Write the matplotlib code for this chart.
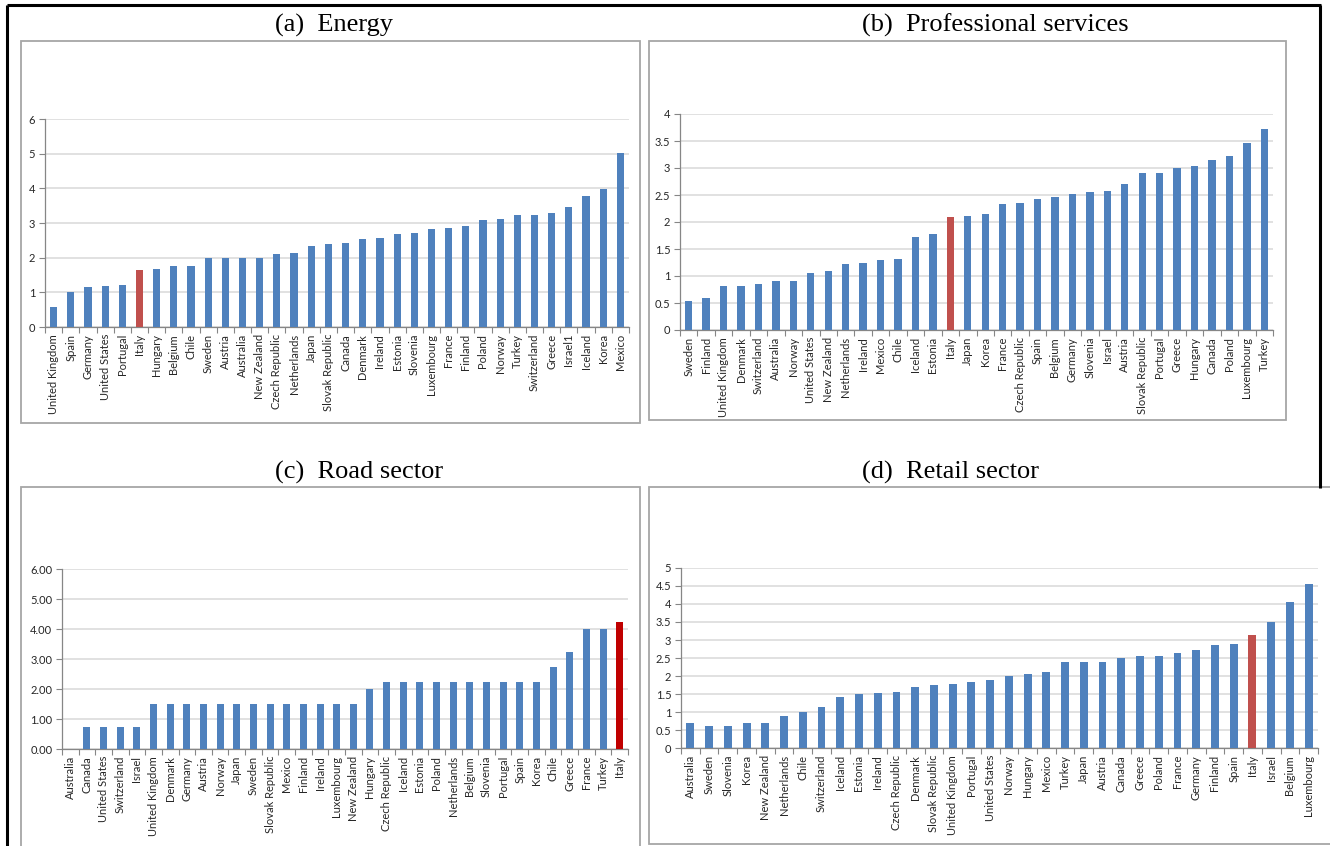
import matplotlib
matplotlib.use("Agg")
import matplotlib.pyplot as plt
from matplotlib.patches import Rectangle
from matplotlib.lines import Line2D
import numpy as np

# ---------------- data ----------------
energy_countries = ["United Kingdom", "Spain", "Germany", "United States", "Portugal", "Italy",
                    "Hungary", "Belgium", "Chile", "Sweden", "Austria", "Australia", "New Zealand",
                    "Czech Republic", "Netherlands", "Japan", "Slovak Republic", "Canada", "Denmark",
                    "Ireland", "Estonia", "Slovenia", "Luxembourg", "France", "Finland", "Poland",
                    "Norway", "Turkey", "Switzerland", "Greece", "Israel1", "Iceland", "Korea", "Mexico"]
energy_values = [0.58, 1.0, 1.16, 1.19, 1.22, 1.65, 1.66, 1.75, 1.76, 2.0, 2.0, 2.0, 2.0,
                 2.12, 2.14, 2.35, 2.39, 2.43, 2.55, 2.57, 2.68, 2.70, 2.82, 2.85, 2.90, 3.09,
                 3.12, 3.22, 3.24, 3.29, 3.45, 3.78, 3.99, 5.01]

prof_countries = ["Sweden", "Finland", "United Kingdom", "Denmark", "Switzerland", "Australia",
                  "Norway", "United States", "New Zealand", "Netherlands", "Ireland", "Mexico",
                  "Chile", "Iceland", "Estonia", "Italy", "Japan", "Korea", "France",
                  "Czech Republic", "Spain", "Belgium", "Germany", "Slovenia", "Israel", "Austria",
                  "Slovak Republic", "Portugal", "Greece", "Hungary", "Canada", "Poland",
                  "Luxembourg", "Turkey"]
prof_values = [0.54, 0.60, 0.81, 0.81, 0.86, 0.91, 0.91, 1.05, 1.09, 1.22, 1.24, 1.29,
               1.31, 1.72, 1.78, 2.09, 2.11, 2.15, 2.33, 2.36, 2.43, 2.47, 2.52, 2.55, 2.57,
               2.70, 2.90, 2.91, 3.0, 3.04, 3.14, 3.23, 3.46, 3.72]

road_countries = ["Australia", "Canada", "United States", "Switzerland", "Israel", "United Kingdom",
                  "Denmark", "Germany", "Austria", "Norway", "Japan", "Sweden", "Slovak Republic",
                  "Mexico", "Finland", "Ireland", "Luxembourg", "New Zealand", "Hungary",
                  "Czech Republic", "Iceland", "Estonia", "Poland", "Netherlands", "Belgium",
                  "Slovenia", "Portugal", "Spain", "Korea", "Chile", "Greece", "France", "Turkey",
                  "Italy"]
road_values = [0.0, 0.75, 0.75, 0.75, 0.75, 1.5, 1.5, 1.5, 1.5, 1.5, 1.5, 1.5, 1.5, 1.5, 1.5,
               1.5, 1.5, 1.5, 2.0, 2.25, 2.25, 2.25, 2.25, 2.25, 2.25, 2.25, 2.25, 2.25, 2.25,
               2.75, 3.25, 4.0, 4.0, 4.25]

retail_countries = ["Australia", "Sweden", "Slovenia", "Korea", "New Zealand", "Netherlands",
                    "Chile", "Switzerland", "Iceland", "Estonia", "Ireland", "Czech Republic",
                    "Denmark", "Slovak Republic", "United Kingdom", "Portugal", "United States",
                    "Norway", "Hungary", "Mexico", "Turkey", "Japan", "Austria", "Canada",
                    "Greece", "Poland", "France", "Germany", "Finland", "Spain", "Italy", "Israel",
                    "Belgium", "Luxembourg"]
retail_values = [0.70, 0.60, 0.62, 0.70, 0.70, 0.90, 1.0, 1.15, 1.42, 1.50, 1.54, 1.55,
                 1.69, 1.75, 1.79, 1.83, 1.90, 2.01, 2.05, 2.10, 2.38, 2.38, 2.40, 2.50,
                 2.55, 2.55, 2.63, 2.72, 2.87, 2.89, 3.15, 3.50, 4.06, 4.55]

panel_titles = ["(a)  Energy", "(b)  Professional services", "(c)  Road sector", "(d)  Retail sector"]

# ---------------- style ----------------
W, H = 1330, 846
BLUE = "#4F81BD"
RED = "#C0504D"
DARK_RED = "#C00000"
GRID = "#D9D9D9"
AXIS = "#868686"
TEXT = "#262626"
TICK_FONT = ["Lato", "DejaVu Sans"]

fig = plt.figure(figsize=(W / 100, H / 100), dpi=100)
fig.patch.set_facecolor("white")


def fx(x):
    return x / W


def fy(y):
    return 1 - y / H


def box(x0, y0, x1, y1, lw=1.3, color="#A6A6A6"):
    fig.add_artist(Rectangle((fx(x0), fy(y1)), fx(x1) - fx(x0), fy(y0) - fy(y1),
                             transform=fig.transFigure, facecolor="white",
                             edgecolor=color, lw=lw, zorder=0))


def line(x0, y0, x1, y1, lw=2.2, color="black"):
    fig.add_artist(Line2D([fx(x0), fx(x1)], [fy(y0), fy(y1)], transform=fig.transFigure,
                          color=color, lw=lw, solid_capstyle="butt", zorder=5))


# outer frame
line(7, 5, 1321, 5)
line(7, 5, 7, 846)
line(1320, 5, 1320, 488)

# chart frames
box(21, 41, 640, 423)
box(649, 41, 1286, 420)
box(21, 487, 640, 848)
box(649, 487, 1335, 844)

# panel headings
for txt, (x, y) in zip(panel_titles, [(275, 25), (862, 25), (275, 472), (862, 472)]):
    fig.text(fx(x), fy(y), txt, ha="left", va="center", fontsize=19,
             family=["Liberation Serif", "DejaVu Serif"], color="black")


def panel(rect, cats, vals, ymax, ystep, fmt, hl_color):
    x0, y0, x1, y1 = rect
    ax = fig.add_axes([fx(x0), fy(y1), fx(x1) - fx(x0), fy(y0) - fy(y1)])
    n = len(cats)
    pos = np.arange(n)
    colors = [hl_color if c == "Italy" else BLUE for c in cats]
    ax.bar(pos, vals, width=0.42, color=colors, zorder=3)
    ax.set_xlim(-0.5, n - 0.5)
    ax.set_ylim(0, ymax)
    yt = np.arange(0, ymax + 1e-9, ystep)
    ax.set_yticks(yt)
    ax.set_yticklabels([fmt.format(v) for v in yt], family=TICK_FONT, fontsize=8, color=TEXT)
    ax.set_xticks(pos)
    ax.set_xticklabels(cats, rotation=90, family=TICK_FONT, fontsize=8, color=TEXT)
    ax.set_xticks(np.arange(-0.5, n, 1.0), minor=True)
    ax.tick_params(axis="x", which="major", length=0, pad=5)
    ax.tick_params(axis="x", which="minor", length=4, color=AXIS, width=0.8)
    ax.tick_params(axis="y", length=4, color=AXIS, width=0.8, pad=3)
    ax.yaxis.grid(True, color=GRID, lw=1.1, zorder=0)
    ax.set_axisbelow(True)
    for s in ["top", "right"]:
        ax.spines[s].set_visible(False)
    for s in ["left", "bottom"]:
        ax.spines[s].set_color(AXIS)
        ax.spines[s].set_linewidth(0.9)
    return ax


panel((45, 119, 629, 327), energy_countries, energy_values, 6, 1, "{:g}", RED)
panel((680, 114, 1273, 330), prof_countries, prof_values, 4, 0.5, "{:g}", RED)
panel((62, 569, 628, 749), road_countries, road_values, 6, 1, "{:.2f}", DARK_RED)
panel((681, 568, 1318, 748), retail_countries, retail_values, 5, 0.5, "{:g}", RED)

fig.savefig("out.png", dpi=100)
